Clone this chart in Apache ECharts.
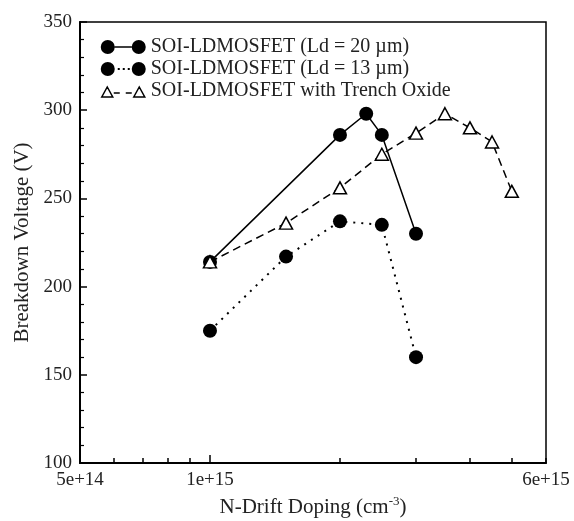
<!DOCTYPE html>
<html>
<head>
<meta charset="utf-8">
<script src="https://cdn.jsdelivr.net/npm/echarts@6/dist/echarts.min.js"></script>
<style>html,body{margin:0;padding:0;background:#fff;}#c{width:574px;height:521px;}</style>
</head>
<body>
<div id="c"></div>
<script>
// ---- data ----
const seriesNames = ['SOI-LDMOSFET (Ld = 20 µm)', 'SOI-LDMOSFET (Ld = 13 µm)', 'SOI-LDMOSFET with Trench Oxide'];
const dopingLd20 = [1e15, 2e15, 2.3e15, 2.5e15, 3e15];
const bvLd20 = [214, 286, 298, 286, 230];
const dopingLd13 = [1e15, 1.5e15, 2e15, 2.5e15, 3e15];
const bvLd13 = [175, 217, 237, 235, 160];
const dopingTrench = [1e15, 1.5e15, 2e15, 2.5e15, 3e15, 3.5e15, 4e15, 4.5e15, 5e15];
const bvTrench = [214, 236, 256, 275, 287, 298, 290, 282, 254];
const xMin = 5e14, xMax = 6e15;
const xLabelValues = [5e14, 1e15, 6e15];
const xLabelTexts = ['5e+14', '1e+15', '6e+15'];
const xMinorTickValues = [5e14, 6e14, 7e14, 8e14, 9e14, 1e15, 2e15, 3e15, 4e15, 5e15, 6e15];
const xMajorTickValues = [1e15];
const yMin = 100, yMax = 350, yStep = 50;

const zip = (xs, ys) => xs.map((x, i) => [x, ys[i]]);
// keep custom values strictly inside the log extent (float rounding at the ends)
const clampIn = vs => vs.map(v => Math.min(Math.max(v, xMin * 1.0001), xMax * 0.9999));
const FONT = '"Liberation Serif", "Times New Roman", serif';
const TXT = '#222';

const chart = echarts.init(document.getElementById('c'), null, {renderer: 'canvas'});
const labelFor = v => {
  let best = 0, bd = Infinity;
  xLabelValues.forEach((x, i) => { const d = Math.abs(Math.log10(x) - Math.log10(v)); if (d < bd) { bd = d; best = i; } });
  return xLabelTexts[best];
};
const circleIcon = 'path://M0,7 A7,7 0 1,1 14,7 A7,7 0 1,1 0,7 Z M14,6.2 L31,6.2 L31,7.8 L14,7.8 Z M31,7 A7,7 0 1,1 45,7 A7,7 0 1,1 31,7 Z';
const dotIcon = 'path://M0,7 A7,7 0 1,1 14,7 A7,7 0 1,1 0,7 Z M17,6 L19,6 L19,8 L17,8 Z M22,6 L24,6 L24,8 L22,8 Z M27,6 L29,6 L29,8 L27,8 Z M31,7 A7,7 0 1,1 45,7 A7,7 0 1,1 31,7 Z';
const triIcon = 'path://M1,13 L6.5,3 L12,13 Z M13,9 L19,9 M25,9 L31,9 M33,13 L38.5,3 L44,13 Z M0,14 L0,14 M45,0 L45,0';

chart.setOption({
  animation: false,
  backgroundColor: '#fff',
  grid: {left: 80, right: 28, top: 22, bottom: 58, show: true, borderColor: '#000', borderWidth: 1.5, backgroundColor: 'transparent', outerBoundsMode: 'none'},
  legend: {
    orient: 'vertical', left: 100, top: 37, padding: 0, itemWidth: 45, itemHeight: 14, itemGap: 2,
    textStyle: {fontFamily: FONT, fontSize: 20, color: TXT, lineHeight: 20},
    data: [
      {name: seriesNames[0], icon: circleIcon, itemStyle: {color: '#000', borderWidth: 0}},
      {name: seriesNames[1], icon: dotIcon, itemStyle: {color: '#000', borderWidth: 0}},
      {name: seriesNames[2], icon: triIcon, itemStyle: {color: '#fff', borderColor: '#000', borderWidth: 1.5}}
    ]
  },
  xAxis: [{
    type: 'log', logBase: 10, min: xMin, max: xMax,
    name: '{a|N-Drift Doping (cm}{s|-3}{a|)}', nameLocation: 'middle', nameGap: 21,
    nameTextStyle: {rich: {a: {fontFamily: FONT, fontSize: 21, color: TXT}, s: {fontFamily: FONT, fontSize: 13, color: TXT, padding: [0, 0, 12, 0]}}},
    axisLine: {show: true, lineStyle: {color: '#000', width: 2}},
    axisTick: {show: true, inside: true, length: 5, customValues: clampIn(xMinorTickValues), lineStyle: {color: '#000', width: 1.5}},
    axisLabel: {show: true, customValues: clampIn(xLabelValues), formatter: v => labelFor(v), fontFamily: FONT, fontSize: 19, color: TXT, margin: 8},
    splitLine: {show: false}, minorTick: {show: false}
  }, {
    type: 'log', logBase: 10, min: xMin, max: xMax, position: 'bottom',
    axisLine: {show: false},
    axisTick: {show: true, inside: true, length: 8, customValues: clampIn(xMajorTickValues), lineStyle: {color: '#000', width: 1.5}},
    axisLabel: {show: false}, splitLine: {show: false}
  }],
  yAxis: {
    type: 'value', min: yMin, max: yMax, interval: yStep,
    name: 'Breakdown Voltage (V)', nameLocation: 'middle', nameGap: 47,
    nameTextStyle: {fontFamily: FONT, fontSize: 21, color: TXT},
    axisLine: {show: true, lineStyle: {color: '#000', width: 2}},
    axisTick: {show: true, inside: true, length: 7, lineStyle: {color: '#000', width: 1.5}},
    minorTick: {show: true, splitNumber: 5, length: 4, lineStyle: {color: '#000', width: 1.2}},
    axisLabel: {fontFamily: FONT, fontSize: 19, color: TXT, margin: 8},
    splitLine: {show: false}
  },
  series: [
    {
      name: seriesNames[0], type: 'line', data: zip(dopingLd20, bvLd20),
      symbol: 'circle', symbolSize: 14, itemStyle: {color: '#000'},
      lineStyle: {color: '#000', width: 1.5, type: 'solid'}, z: 2
    },
    {
      name: seriesNames[1], type: 'line', data: zip(dopingLd13, bvLd13),
      symbol: 'circle', symbolSize: 14, itemStyle: {color: '#000'},
      lineStyle: {color: '#000', width: 2, type: [2, 6]}, z: 2
    },
    {
      name: seriesNames[2], type: 'line', data: zip(dopingTrench, bvTrench),
      symbol: 'triangle', symbolSize: [13, 12], itemStyle: {color: '#fff', borderColor: '#000', borderWidth: 1.5},
      lineStyle: {color: '#000', width: 1.5, type: [8, 5]}, z: 3
    }
  ]
});
</script>
</body>
</html>
